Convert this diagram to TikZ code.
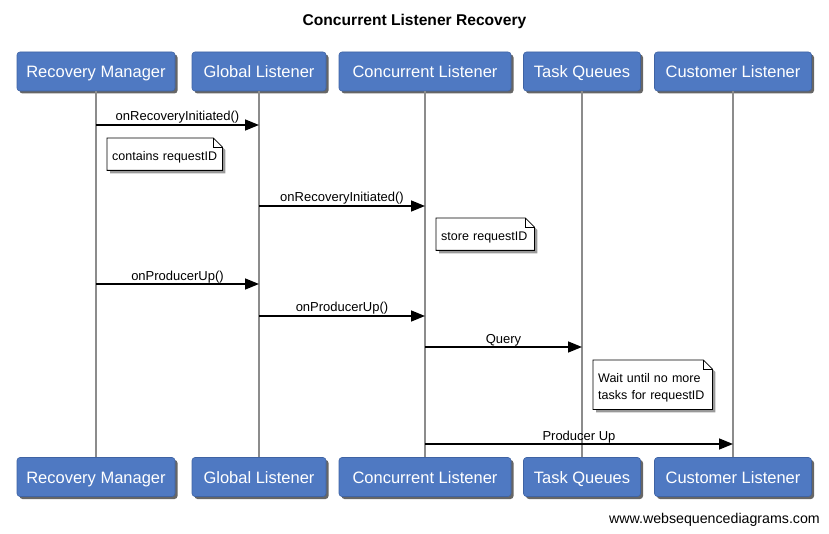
\documentclass[tikz,border=0pt]{standalone}
\usepackage{fontspec}
\setmainfont{Liberation Sans}
\usetikzlibrary{arrows.meta,shadows}
\definecolor{boxblue}{HTML}{4F79C2}
\definecolor{boxedge}{HTML}{3F63A3}
\definecolor{lifegray}{HTML}{8C8C8C}
\newcommand\mynotefold[1]{%
  \fill[black!40] ([xshift=3pt,yshift=-3pt]#1.south west) -- ([xshift=3pt,yshift=-3pt]#1.north west)
    -- ([xshift=-6pt,yshift=-3pt]#1.north east) -- ([xshift=3pt,yshift=-12pt]#1.north east)
    -- ([xshift=3pt,yshift=-3pt]#1.south east) -- cycle;
  \filldraw[fill=white, draw=black, line width=0.8pt] (#1.south west) -- (#1.north west)
    -- ([xshift=-9pt]#1.north east) -- ([yshift=-9pt]#1.north east) -- (#1.south east) -- cycle;
  \draw[line width=0.6pt] ([xshift=-9pt]#1.north east) -- ([xshift=-9pt,yshift=-9pt]#1.north east) -- ([yshift=-9pt]#1.north east);
}
\begin{document}
\begin{tikzpicture}[x=1pt,y=-1pt,
  actor/.style={draw=boxedge, line width=0.6pt, fill=boxblue, rounded corners=3pt, text=white,
    font=\fontsize{16.5}{19}\selectfont, minimum height=39pt, inner sep=0pt, text height=12pt, text depth=0pt,
    drop shadow={shadow xshift=2.5pt, shadow yshift=-2.5pt, fill=black, opacity=0.6}},
  life/.style={draw=lifegray, line width=1.6pt},
  msg/.style={draw=black, line width=1.5pt, -{Triangle[length=14pt,width=11pt]}},
  lbl/.style={font=\fontsize{13}{15}\selectfont, anchor=base, inner sep=0pt},
  notetext/.style={font=\fontsize{12.5}{17.5}\selectfont, align=left, inner xsep=5pt, inner ysep=0pt, anchor=north west, text=black}
]
\useasboundingbox (0,0) rectangle (829,534);

\node[font=\bfseries\fontsize{15.6}{18}\selectfont, anchor=base] (title) at (414.5,26) {Concurrent Listener Recovery};

% top actors
\node[actor, minimum width=158pt] (rmT) at (96,71.5) {Recovery Manager};
\node[actor, minimum width=134pt] (glT) at (259,71.5) {Global Listener};
\node[actor, minimum width=172pt] (clT) at (425,71.5) {Concurrent Listener};
\node[actor, minimum width=117pt] (tqT) at (582,71.5) {Task Queues};
\node[actor, minimum width=157pt] (cuT) at (733,71.5) {Customer Listener};
% bottom actors
\node[actor, minimum width=158pt] (rmB) at (96,477) {Recovery Manager};
\node[actor, minimum width=134pt] (glB) at (259,477) {Global Listener};
\node[actor, minimum width=172pt] (clB) at (425,477) {Concurrent Listener};
\node[actor, minimum width=117pt] (tqB) at (582,477) {Task Queues};
\node[actor, minimum width=157pt] (cuB) at (733,477) {Customer Listener};

% lifelines
\draw[life] (rmT) -- (rmB);
\draw[life] (glT) -- (glB);
\draw[life] (clT) -- (clB);
\draw[life] (tqT) -- (tqB);
\draw[life] (cuT) -- (cuB);

% message endpoints
\coordinate (m1a) at (96,125);  \coordinate (m1b) at (259,125);
\coordinate (m2a) at (259,206); \coordinate (m2b) at (425,206);
\coordinate (m3a) at (96,284);  \coordinate (m3b) at (259,284);
\coordinate (m4a) at (259,316); \coordinate (m4b) at (425,316);
\coordinate (m5a) at (425,347); \coordinate (m5b) at (582,347);
\coordinate (m6a) at (425,444); \coordinate (m6b) at (733,444);

\draw[msg] (m1a) -- (m1b);
\node[lbl] (l1) at (177.5,121) {onRecoveryInitiated()};
\draw[msg] (m2a) -- (m2b);
\node[lbl] (l2) at (342,202) {onRecoveryInitiated()};
\draw[msg] (m3a) -- (m3b);
\node[lbl] (l3) at (177.5,280) {onProducerUp()};
\draw[msg] (m4a) -- (m4b);
\node[lbl] (l4) at (342,312) {onProducerUp()};
\draw[msg] (m5a) -- (m5b);
\node[lbl] (l5) at (503.5,343) {Query};
\draw[msg] (m6a) -- (m6b);
\node[lbl] (l6) at (579,440) {Producer Up};

% notes
\path node[notetext, text width=105pt, minimum height=32pt] (n1) at (107,138) {};
\mynotefold{n1}
\node[notetext, text width=105pt, minimum height=32pt, yshift=-3pt] (t1) at (107,138) {contains requestID};

\path node[notetext, text width=88pt, minimum height=32pt] (n2) at (436,218) {};
\mynotefold{n2}
\node[notetext, text width=88pt, minimum height=32pt, yshift=-3pt] (t2) at (436,218) {store requestID};

\path node[notetext, text width=109pt, minimum height=49pt] (n3) at (593,360) {};
\mynotefold{n3}
\node[notetext, text width=109pt, minimum height=49pt, yshift=-3pt] (t3) at (593,360) {Wait until no more\\tasks for requestID};

\node[font=\fontsize{14.2}{17}\selectfont, anchor=base east, inner sep=0pt] (footer) at (820,523) {www.websequencediagrams.com};
\end{tikzpicture}
\end{document}
